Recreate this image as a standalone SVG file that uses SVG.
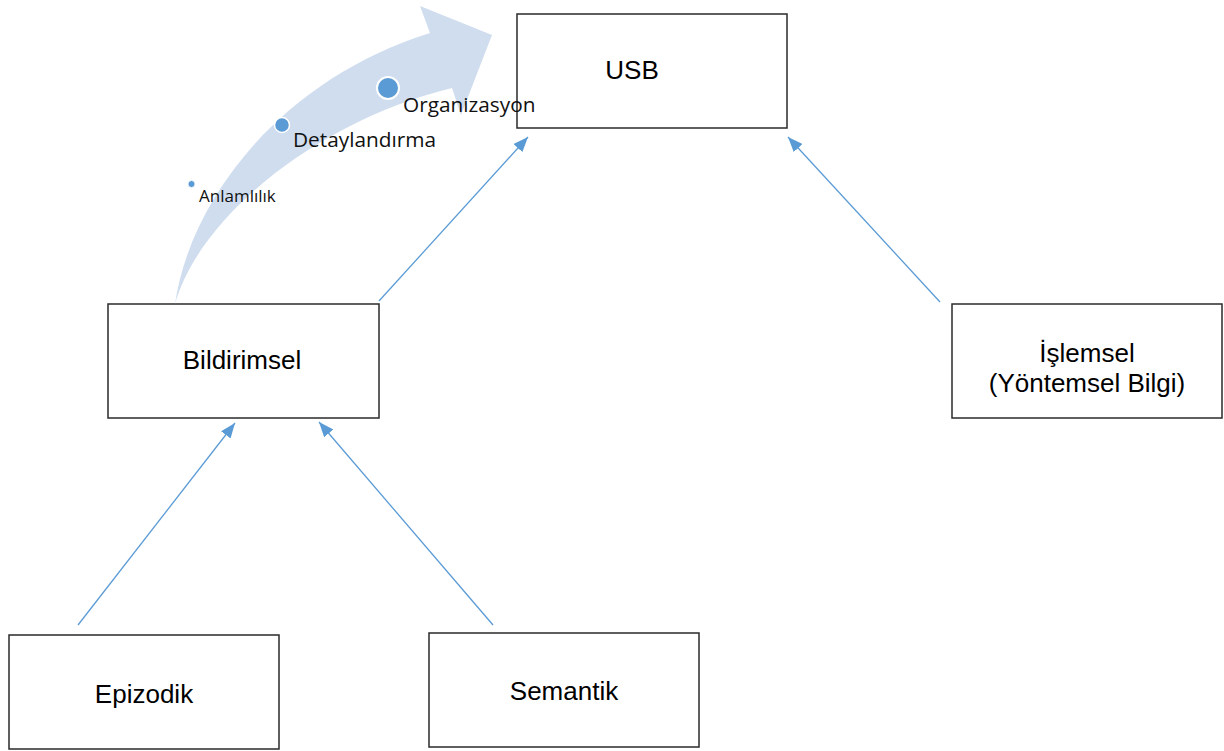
<svg xmlns="http://www.w3.org/2000/svg" width="1224" height="751" viewBox="0 0 1224 751">
  <style>
    .box { fill: #ffffff; stroke: #2a2a2a; stroke-width: 1.5; }
    .lbl { font-family: "Liberation Sans", Arial, sans-serif; font-size: 26px; fill: #000; text-anchor: middle; }
    .conn { stroke: #5b9bd5; stroke-width: 1.3; fill: none; marker-end: url(#ah); }
    .step { font-family: "Open Sans", "Noto Sans", sans-serif; fill: #111; }
    .dot { fill: #5b9bd5; stroke: #ffffff; }
  </style>
  <defs>
    <marker id="ah" markerUnits="userSpaceOnUse" markerWidth="15" markerHeight="12" viewBox="0 0 15 12" refX="15" refY="6" orient="auto">
      <path d="M0,0 L15,6 L0,12 z" fill="#5b9bd5"/>
    </marker>
  </defs>
  <rect width="1224" height="751" fill="#ffffff"/>

  <g id="connectors">
    <line class="conn" x1="78" y1="625" x2="235" y2="423"/>
    <line class="conn" x1="493" y1="625" x2="319" y2="422"/>
    <line class="conn" x1="379" y1="301" x2="528" y2="137"/>
    <line class="conn" x1="940" y1="302" x2="788" y2="137"/>
  </g>

  <g id="node-usb">
    <rect class="box" x="517" y="14" width="270" height="114"/>
    <text class="lbl" x="632" y="79">USB</text>
  </g>
  <g id="node-bildirimsel">
    <rect class="box" x="108" y="304" width="271" height="114"/>
    <text class="lbl" x="242" y="369">Bildirimsel</text>
  </g>
  <g id="node-islemsel">
    <rect class="box" x="952" y="304" width="270" height="114"/>
    <text class="lbl" x="1087" y="362">İşlemsel</text>
    <text class="lbl" x="1087" y="392">(Yöntemsel Bilgi)</text>
  </g>
  <g id="node-epizodik">
    <rect class="box" x="9" y="635" width="270" height="114"/>
    <text class="lbl" x="144" y="703">Epizodik</text>
  </g>
  <g id="node-semantik">
    <rect class="box" x="429" y="633" width="270" height="114"/>
    <text class="lbl" x="564" y="700">Semantik</text>
  </g>

  <g id="process-arrow">
    <path d="M175,304 C190,200 280,80 430,33 L420,6 L492,35 L461,115 L452,88 C320,120 200,215 175,304 Z" fill="#cfddef"/>
    <circle class="dot" cx="191.5" cy="184" r="3.5" stroke-width="0.8"/>
    <circle class="dot" cx="282" cy="125" r="7.5" stroke-width="1.5"/>
    <circle class="dot" cx="388" cy="88" r="11" stroke-width="2"/>
    <text class="step" x="199" y="202" font-size="17">Anlamlılık</text>
    <text class="step" x="293" y="147" font-size="20.8">Detaylandırma</text>
    <text class="step" x="403" y="112" font-size="20.8">Organizasyon</text>
  </g>
</svg>
